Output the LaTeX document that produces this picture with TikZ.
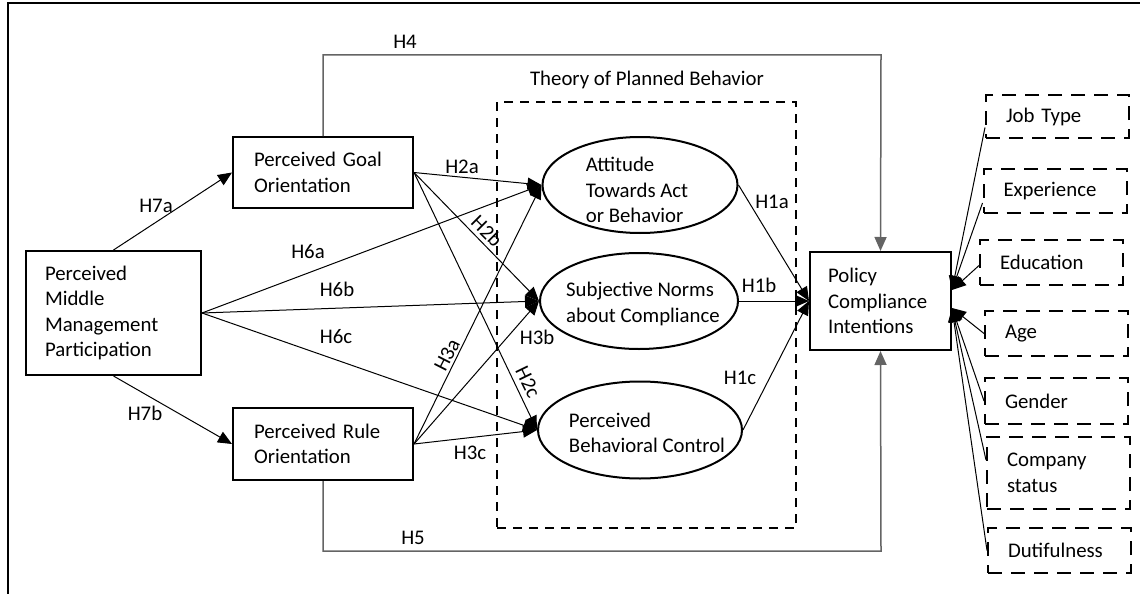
\documentclass[tikz,border=0pt]{standalone}
\usepackage{fontspec}
\setmainfont{Carlito}
\usetikzlibrary{arrows.meta,shapes.geometric,calc}
\begin{document}
\begin{tikzpicture}[x=1pt,y=-1pt,
  every node/.style={font=\fontsize{20.8}{25.5}\selectfont},
  box/.style={draw, line width=2pt, align=left, inner ysep=0pt},
  ctl/.style={draw, line width=2pt, dash pattern=on 14pt off 9pt, align=left, inner ysep=0pt, inner xsep=20pt, minimum width=143pt, text width=103pt},
  ell/.style={draw, ellipse, line width=2pt, inner sep=0pt},
  conn/.style={line width=1pt, -{Triangle[length=14pt,width=12pt]}},
  hline/.style={line width=1.5pt, draw={rgb,255:red,100;green,100;blue,100}, -{Triangle[length=14pt,width=12pt]}},
  lab/.style={inner sep=0pt}
]
\useasboundingbox (0,0) rectangle (1140,594);
% frame
\draw[line width=2pt] (8,594) -- (8,3.5) -- (1140,3.5);

% boxes
\node[box, inner xsep=21pt, text width=138pt, minimum height=71pt] (goal) at (323,172.5) {Perceived Goal\\Orientation};
\node[box, inner xsep=19pt, text width=137pt, minimum height=124pt] (pmmp) at (113.5,313) {Perceived\\Middle\\Management\\Participation};
\node[box, inner xsep=21pt, text width=138pt, minimum height=72pt] (rule) at (323,444) {Perceived Rule\\Orientation};
\node[box, inner xsep=18pt, text width=105pt, minimum height=98pt] (pol) at (880.5,301) {Policy\\Compliance\\Intentions};

% TPB
\node[draw, line width=2pt, dash pattern=on 9pt off 7pt, minimum width=299pt, minimum height=426pt, inner sep=0pt] (tpb) at (646.5,315) {};
\node[lab] (tpbl) at (647,80) {Theory of Planned Behavior};

% ellipses
\node[ell, minimum width=195pt, minimum height=96pt] (att) at (640,185) {};
\node[lab, align=left] (attt) at (637,190) {Attitude\\Towards Act\\or Behavior};
\node[ell, minimum width=198pt, minimum height=96pt] (sn) at (639,301) {};
\node[lab, align=left] (snt) at (643,304) {Subjective Norms\\about Compliance};
\node[ell, minimum width=204pt, minimum height=97pt] (pbc) at (640,430) {};
\node[lab, align=left] (pbct) at (647,433) {Perceived\\Behavioral Control};

% controls
\node[ctl, minimum height=43pt] (jt) at (1057.5,116.5) {Job Type};
\node[ctl, minimum height=44pt] (exp) at (1055,191) {Experience};
\node[ctl, minimum height=45pt] (edu) at (1051.5,262.5) {Education};
\node[ctl, minimum height=45pt] (age) at (1056.5,333.5) {Age};
\node[ctl, minimum height=46pt] (gen) at (1056.5,401) {Gender};
\node[ctl, minimum height=72pt] (com) at (1058.5,473) {Company\\status};
\node[ctl, minimum height=45pt] (dut) at (1059.5,550.5) {Dutifulness};

% H4, H5
\draw[hline] (goal.north) |- (881,55) -- (pol.north);
\draw[hline] (rule.south) |- (881,551) -- (pol.south);
\node[lab] (h4) at (405,42) {H4};
\node[lab] (h5) at (413,538) {H5};

% H7
\draw[conn] (pmmp.north) -- (goal.west);
\draw[conn] (pmmp.south) -- (rule.west);
\node[lab] (h7a) at (156,206) {H7a};
\node[lab] (h7b) at (145,413) {H7b};

% H6
\draw[conn] (pmmp.east) -- (att.west);
\draw[conn] (pmmp.east) -- (sn.west);
\draw[conn] (pmmp.east) -- (pbc.west);
\node[lab] (h6a) at (308,252) {H6a};
\node[lab] (h6b) at (337,289) {H6b};
\node[lab] (h6c) at (336,337) {H6c};

% H2
\draw[conn] (goal.east) -- (att.west);
\draw[conn] (goal.east) -- (sn.west);
\draw[conn] (goal.east) -- (pbc.west);
\node[lab] (h2a) at (462,167) {H2a};
\node[lab, rotate=-45] (h2b) at (487,231) {H2b};
\node[lab, rotate=-64] (h2c) at (528,382) {H2c};

% H3
\draw[conn] (rule.east) -- (att.west);
\draw[conn] (rule.east) -- (sn.west);
\draw[conn] (rule.east) -- (pbc.west);
\node[lab, rotate=63] (h3a) at (447,355) {H3a};
\node[lab] (h3b) at (537,337) {H3b};
\node[lab] (h3c) at (470,453) {H3c};

% H1
\draw[conn] (att.east) -- (pol.west);
\draw[conn] (sn.east) -- (pol.west);
\draw[conn] (pbc.east) -- (pol.west);
\node[lab] (h1a) at (772,202) {H1a};
\node[lab] (h1b) at (759,285) {H1b};
\node[lab] (h1c) at (740,378) {H1c};

% controls to policy
\coordinate (pe1) at ($(pol.east)+(0,-11)$);
\coordinate (pe2) at ($(pol.east)+(0,7)$);
\draw[conn] ($(jt.west)+(0,11)$) -- (pe1);
\draw[conn] ($(exp.west)+(0,12)$) -- (pe1);
\draw[conn] ($(edu.west)+(0,3)$) -- (pe1);
\draw[conn] (age.west) -- (pe2);
\draw[conn] (gen.west) -- (pe2);
\draw[conn] ($(com.west)+(0,-13)$) -- (pe2);
\draw[conn] (dut.west) -- (pe2);
\end{tikzpicture}
\end{document}
